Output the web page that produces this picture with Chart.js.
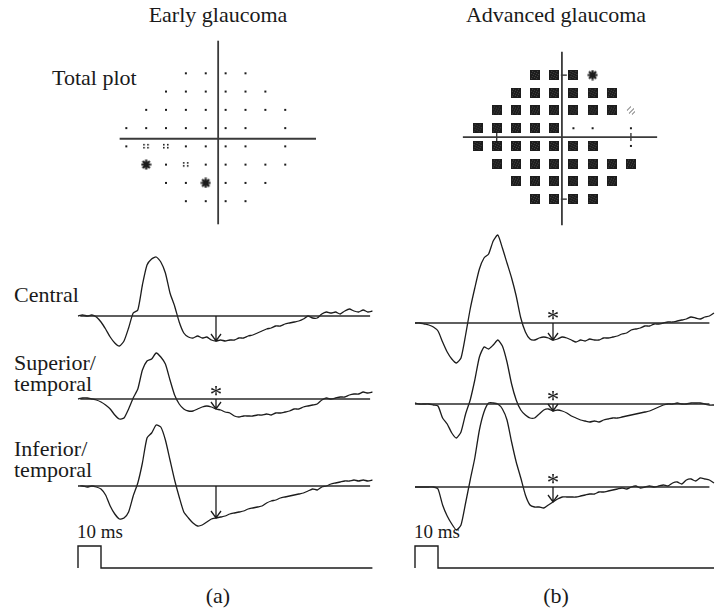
<!DOCTYPE html>
<html>
<head>
<meta charset="utf-8">
<script src="https://cdn.jsdelivr.net/npm/chart.js@4.4.1/dist/chart.umd.min.js"></script>
<style>
    body {
        margin: 0;
        width: 721px;
        height: 611px;
        position: relative;
        overflow: hidden;
        background: #fff;
        color: #1a1a1a;
        font-family: 'Liberation Serif', 'DejaVu Serif', serif;
    }
    canvas { position: absolute; }
    .lbl {
        position: absolute;
        font-size: 22px;
        line-height: 24px;
        white-space: nowrap;
    }
    .mid { width: 300px; text-align: center; }
    .ms { font-size: 19px; }
</style>
</head>
<body>
<div class="lbl mid" style="left:68px;top:3px">Early glaucoma</div>
<div class="lbl mid" style="left:406px;top:3px">Advanced glaucoma</div>
<div class="lbl" style="left:52px;top:66px">Total plot</div>
<div class="lbl" style="left:14px;top:283px">Central</div>
<div class="lbl" style="left:14px;top:351px">Superior/</div>
<div class="lbl" style="left:14px;top:372px">temporal</div>
<div class="lbl" style="left:14px;top:437px">Inferior/</div>
<div class="lbl" style="left:14px;top:458px">temporal</div>
<div class="lbl ms" style="left:77px;top:520px">10 ms</div>
<div class="lbl ms" style="left:414px;top:520px">10 ms</div>
<div class="lbl mid" style="left:68px;top:584px">(a)</div>
<div class="lbl mid" style="left:406px;top:584px">(b)</div>

<canvas id="fieldA" width="210" height="205" style="left:111px;top:30px"></canvas>
<canvas id="fieldB" width="220" height="205" style="left:450px;top:35px"></canvas>
<canvas id="traceA" width="330" height="375" style="left:60px;top:215px"></canvas>
<canvas id="traceB" width="324" height="375" style="left:397px;top:215px"></canvas>

<script>
// 24-2 test locations (degrees), blind spot left out
const fieldX = [-9, -3, 3, 9,
    -15, -9, -3, 3, 9, 15,
    -21, -15, -9, -3, 3, 9, 15, 21,
    -27, -21, -15, -9, -3, 3, 9, 21,
    -27, -21, -15, -9, -3, 3, 9, 21,
    -21, -15, -9, -3, 3, 9, 15, 21,
    -15, -9, -3, 3, 9, 15,
    -9, -3, 3, 9]
const fieldY = [21, 21, 21, 21,
    15, 15, 15, 15, 15, 15,
    9, 9, 9, 9, 9, 9, 9, 9,
    3, 3, 3, 3, 3, 3, 3, 3,
    -3, -3, -3, -3, -3, -3, -3, -3,
    -9, -9, -9, -9, -9, -9, -9, -9,
    -15, -15, -15, -15, -15, -15,
    -21, -21, -21, -21]
// probability symbols: 0 normal, 1 p<5%, 2 p<1%, 3 p<2%, 4 p<0.5%
const earlySymbols = [0, 0, 0, 0,
    0, 0, 0, 0, 0, 0,
    0, 0, 0, 0, 0, 0, 0, 0,
    0, 0, 0, 0, 0, 0, 0, 0,
    0, 1, 1, 0, 0, 0, 0, 0,
    2, 0, 1, 0, 0, 0, 0, 0,
    0, 0, 2, 0, 0, 0,
    0, 0, 0, 0]
const advancedSymbols = [4, 4, 4, 2,
    4, 4, 4, 4, 4, 4,
    4, 4, 4, 4, 4, 4, 4, 3,
    4, 4, 4, 4, 4, 0, 0, 0,
    4, 4, 4, 4, 4, 4, 4, 0,
    4, 4, 4, 4, 4, 4, 4, 4,
    4, 4, 4, 4, 4, 4,
    4, 4, 4, 4]

// mfERG responses, time in ms
const times = [0, 2, 4, 6, 8, 10, 12, 14, 16, 18, 20, 22, 24, 26, 28, 30, 32, 34, 36, 38,
    40, 42, 44, 46, 48, 50, 52, 54, 56, 58, 60, 62, 64, 66, 68, 70, 72, 74, 76, 78,
    80, 82, 84, 86, 88, 90, 92, 94, 96, 98, 100, 102, 104, 106, 108, 110, 112, 114, 116, 118,
    120, 122, 124, 126, 128, 130]
const earlyCentral = [0, 1, 0, 1, -1, -6, -13, -21, -27, -30,
    -25, -12, 3, 6, 31, 51, 57, 59, 54, 43,
    23, 10, -6, -17, -21, -22, -20, -22, -21, -24,
    -25, -24, -25, -24, -24, -22, -22, -20, -19, -17,
    -15, -13, -12, -10, -10, -8, -7, -6, -5, -3,
    0, -2, -2, 2, 4, 3, 4, 2, 5, 7,
    5, 4, 6, 4, 5]
const earlySuperior = [0, 1, 1, 0, -1, -3, -6, -10, -16, -20,
    -19, -10, 1, 10, 29, 38, 40, 46, 42, 35,
    19, 4, -5, -10, -12, -12, -10, -8, -7, -8,
    -10, -11, -13, -14, -17, -18, -17, -17, -17, -16,
    -16, -15, -16, -14, -14, -13, -12, -10, -10, -8,
    -7, -6, -5, -1, 1, 0, 1, 2, 2, 4,
    5, 5, 7, 6, 7]
const earlyInferior = [0, 0, -1, 0, -1, -3, -9, -20, -28, -33,
    -32, -26, -10, 3, 23, 48, 53, 61, 59, 46,
    26, 6, -11, -26, -32, -37, -40, -39, -36, -33,
    -32, -31, -30, -28, -27, -26, -25, -23, -22, -21,
    -20, -17, -15, -14, -12, -11, -10, -9, -8, -7,
    -5, -3, -4, -1, 0, 2, 3, 4, 5, 5,
    6, 5, 6, 5, 6]
const advancedCentral = [0, 0, -1, -2, -4, -8, -19, -29, -36, -40,
    -35, -12, 14, 35, 54, 65, 69, 82, 88, 75,
    60, 45, 27, 5, -9, -16, -17, -15, -14, -15,
    -17, -16, -14, -15, -17, -19, -17, -18, -16, -17,
    -17, -15, -15, -14, -13, -11, -10, -7, -6, -5,
    -3, -3, -1, -1, 0, 1, 1, 2, 3, 4,
    6, 5, 4, 6, 7, 10]
const advancedSuperior = [1, 0, 0, 0, -1, -2, -14, -20, -29, -34,
    -28, -10, 4, 24, 47, 57, 55, 59, 64, 58,
    42, 20, 4, -6, -11, -14, -14, -10, -6, -5,
    -7, -6, -7, -9, -12, -14, -16, -17, -18, -17,
    -18, -16, -15, -14, -14, -13, -12, -11, -10, -9,
    -8, -7, -5, -3, -1, 0, 0, 1, 0, 0,
    1, 1, 1, 0, -1, -1]
const advancedInferior = [0, 0, 0, 0, 0, -2, -18, -29, -37, -43,
    -38, -16, 7, 29, 57, 75, 84, 84, 83, 78,
    67, 45, 25, 9, -8, -18, -20, -20, -21, -18,
    -15, -12, -10, -10, -10, -10, -9, -8, -7, -7,
    -5, -5, -4, -3, -2, -1, -2, 0, 1, -1,
    0, 1, 0, 1, 2, 1, 4, 5, 3, 7,
    8, 6, 9, 8, 7, 4]
const earlyStars = [false, true, false]
const advancedStars = [true, true, true]
const arrowTime = 60

// 10 ms flash stimulus
const earlyStimTime = [0, 0, 10, 10, 128]
const advancedStimTime = [0, 0, 10, 10, 130]
const stimLevel = [0, 22, 22, 0, 0]

// layout (pixels)
const pxPerMs = 2.3
const ink = '#1c1c1c'
const axisInk = '#3a3a3a'

const makeSymbol = (w, h, draw) => {
    const c = document.createElement('canvas')
    c.width = w
    c.height = h
    const g = c.getContext('2d')
    g.fillStyle = ink
    g.strokeStyle = ink
    draw(g)
    return c
}
const symbols = [
    makeSymbol(4, 4, g => g.fillRect(1, 1, 2, 2)),
    makeSymbol(8, 7, g => {
        [[1, 1], [5, 1], [1, 4], [5, 4]].forEach(p => g.fillRect(p[0], p[1], 1.6, 1.6))
    }),
    makeSymbol(11, 11, g => {
        g.lineWidth = 2.2
        g.beginPath()
        for (let a = 0; a < 4; a++) {
            const r = a * Math.PI / 4
            g.moveTo(5.5 - 5 * Math.cos(r), 5.5 - 5 * Math.sin(r))
            g.lineTo(5.5 + 5 * Math.cos(r), 5.5 + 5 * Math.sin(r))
        }
        g.stroke()
        g.beginPath()
        g.arc(5.5, 5.5, 2.6, 0, Math.PI * 2)
        g.fill()
    }),
    makeSymbol(10, 10, g => {
        g.strokeStyle = '#555'
        g.lineWidth = 1
        g.beginPath()
        g.moveTo(1, 5); g.lineTo(5, 1)
        g.moveTo(3, 8); g.lineTo(8, 3)
        g.moveTo(6, 9); g.lineTo(9, 6)
        g.stroke()
    }),
    makeSymbol(10, 10, g => {
        g.fillRect(0, 0, 10, 10)
        g.fillStyle = '#4a4a4a'
        for (let i = 1; i < 9; i++) {
            for (let j = 1; j < 9; j++) {
                if ((i * 2 + j) % 5 === 0) g.fillRect(i, j, 1, 1)
            }
        }
    })
]

const quiet = {
    responsive: false,
    animation: false,
    events: [],
    layout: { padding: 0 },
    plugins: { legend: { display: false }, tooltip: { enabled: false } }
}

const fieldChart = (id, codes, box, cross, ticks) => {
    const datasets = [
        {
            data: [{ x: cross.h[0], y: cross.at[1] }, { x: cross.h[1], y: cross.at[1] }],
            showLine: true, borderColor: axisInk, borderWidth: 1.8, pointRadius: 0
        },
        {
            data: [{ x: cross.at[0], y: cross.v[0] }, { x: cross.at[0], y: cross.v[1] }],
            showLine: true, borderColor: axisInk, borderWidth: 1.8, pointRadius: 0
        },
        {
            data: fieldX.map((x, i) => ({ x: x, y: fieldY[i] })),
            pointStyle: ctx => symbols[codes[ctx.dataIndex]] || 'circle',
            pointRadius: 4,
            borderWidth: 0
        }
    ]
    if (ticks) {
        datasets.push({
            data: [{ x: 0, y: 21 }, { x: 0, y: -21 }],
            pointStyle: 'line', pointRadius: 3, borderColor: ink, borderWidth: 1.2
        })
        datasets.push({
            data: [{ x: -21, y: 0 }, { x: 21, y: 0 }],
            pointStyle: 'line', rotation: 90, pointRadius: 4, borderColor: ink, borderWidth: 1.2
        })
    }
    return new Chart(document.getElementById(id), {
        type: 'scatter',
        data: { datasets: datasets },
        options: {
            ...quiet,
            scales: {
                x: { type: 'linear', display: false, min: box.x[0], max: box.x[1] },
                y: { type: 'linear', display: false, min: box.y[0], max: box.y[1] }
            }
        }
    })
}

// arrows at the trough latency and the asterisks above them
const arrowPlugin = (series, stars) => ({
    id: 'arrows',
    afterDatasetsDraw(chart) {
        const ctx = chart.ctx
        const idx = times.indexOf(arrowTime)
        const x = chart.scales.x.getPixelForValue(arrowTime)
        ctx.save()
        ctx.strokeStyle = ink
        ctx.fillStyle = ink
        ctx.lineWidth = 1.3
        ctx.font = '25px "Liberation Serif", serif'
        ctx.textAlign = 'center'
        series.forEach((s, k) => {
            const sc = chart.scales['y' + k]
            const y0 = sc.getPixelForValue(0)
            const y1 = sc.getPixelForValue(s[idx])
            ctx.beginPath()
            ctx.moveTo(x, y0)
            ctx.lineTo(x, y1)
            ctx.moveTo(x - 5, y1 - 7)
            ctx.lineTo(x, y1)
            ctx.lineTo(x + 5, y1 - 7)
            ctx.stroke()
            if (stars[k]) ctx.fillText('*', x, y0 + 4)
        })
        ctx.restore()
    }
})

const traceChart = (id, box, series, baselines, span, stimTime, stars) => {
    const scales = {
        x: {
            type: 'linear', display: false,
            min: (box.left - box.t0) / pxPerMs,
            max: (box.left + box.width - box.t0) / pxPerMs
        }
    }
    baselines.forEach((b, k) => {
        scales['y' + k] = {
            type: 'linear', display: false, position: 'left',
            min: b - (box.top + box.height), max: b - box.top
        }
    })
    const datasets = []
    series.forEach((s, k) => {
        datasets.push({
            data: [{ x: span[0], y: 0 }, { x: span[1], y: 0 }],
            yAxisID: 'y' + k, borderColor: '#2a2a2a', borderWidth: 1.6, pointRadius: 0
        })
        datasets.push({
            data: s.map((v, i) => ({ x: times[i], y: v })),
            yAxisID: 'y' + k, borderColor: ink, borderWidth: 1.3, pointRadius: 0, tension: 0.2
        })
    })
    datasets.push({
        data: stimTime.map((t, i) => ({ x: t, y: stimLevel[i] })),
        yAxisID: 'y' + series.length, borderColor: ink, borderWidth: 1.4, pointRadius: 0
    })
    return new Chart(document.getElementById(id), {
        type: 'line',
        data: { datasets: datasets },
        options: { ...quiet, scales: scales },
        plugins: [arrowPlugin(series, stars)]
    })
}

fieldChart('fieldA', earlySymbols,
    { x: [-30.4, 30.6], y: [-30.8, 33.9] },
    { h: [-29, 30.3], v: [-28.6, 31.7], at: [0.75, -0.5] }, false)
fieldChart('fieldB', advancedSymbols,
    { x: [-34, 31.6], y: [-33.1, 32.8] },
    { h: [-31.6, 29.2], v: [-29.9, 28.9], at: [-0.6, 0] }, true)

traceChart('traceA', { left: 60, top: 215, width: 330, height: 375, t0: 78 },
    [earlyCentral, earlySuperior, earlyInferior], [316, 399, 486, 568],
    [1, 127], earlyStimTime, earlyStars)
traceChart('traceB', { left: 397, top: 215, width: 324, height: 375, t0: 415 },
    [advancedCentral, advancedSuperior, advancedInferior], [323, 404, 487, 568],
    [0, 128], advancedStimTime, advancedStars)
</script>
</body>
</html>
